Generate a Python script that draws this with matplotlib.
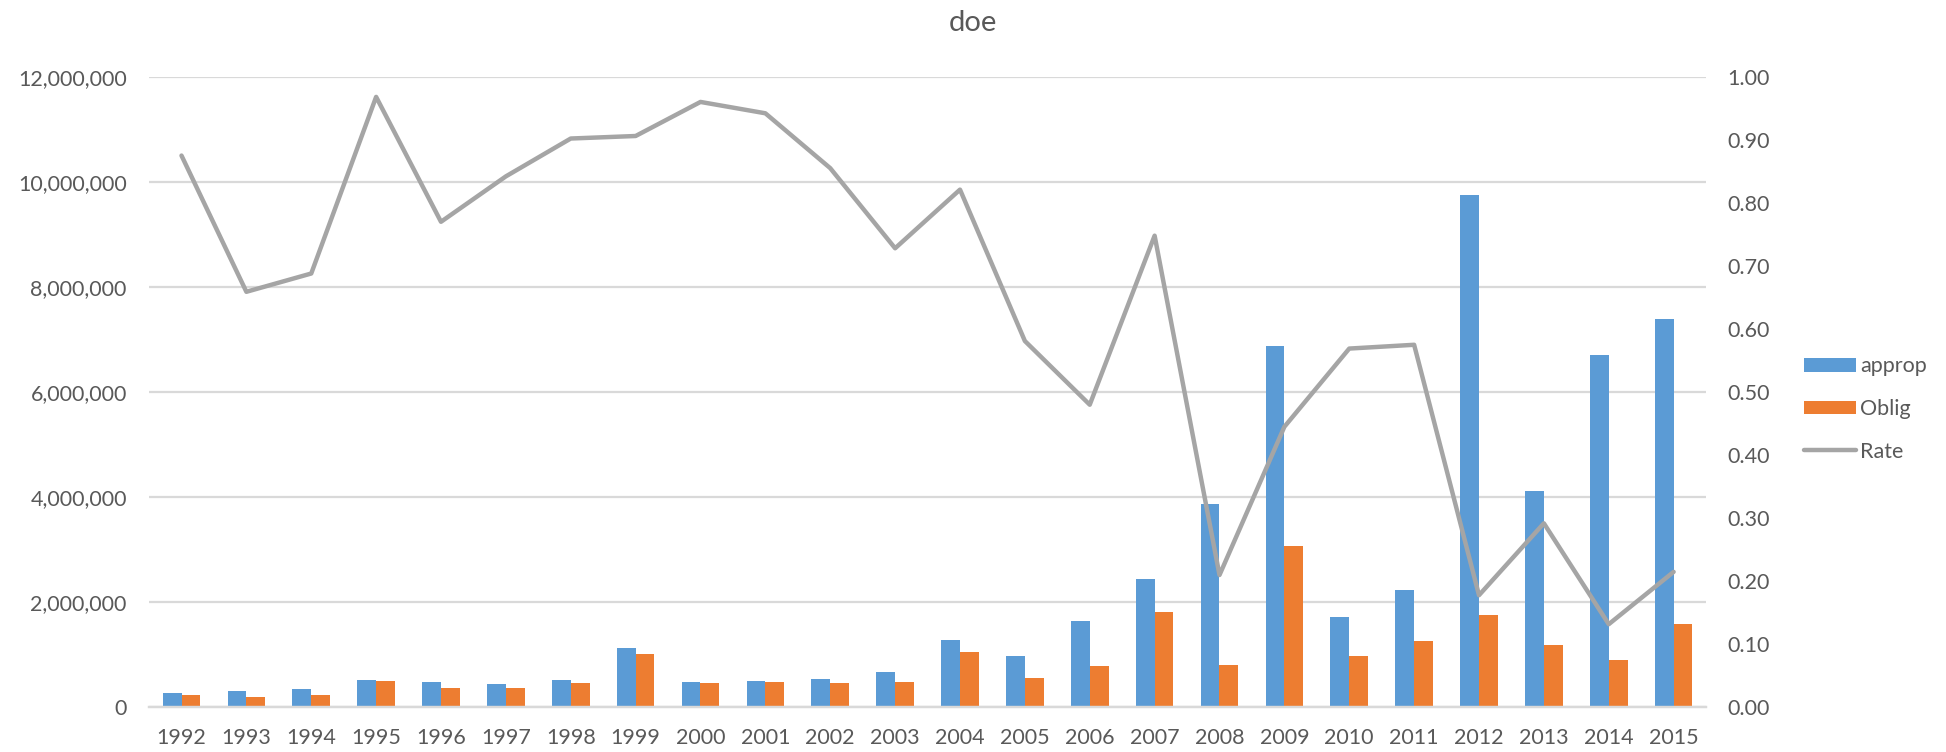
import numpy as np
import matplotlib
matplotlib.use("Agg")
import matplotlib.pyplot as plt
from matplotlib.ticker import FuncFormatter

# yearly figures for doe
years = [str(y) for y in range(1992, 2016)]
approp = [276000, 308000, 346000, 530000, 485000, 447000, 523000, 1132000,
          485000, 510000, 542000, 670000, 1290000, 986000, 1640000, 2440000,
          3866000, 6880000, 1730000, 2236000, 9750000, 4126000, 6700000, 7390000]
oblig = [238000, 194000, 238000, 510000, 371000, 377000, 466000, 1018000,
         466000, 485000, 466000, 485000, 1056000, 568000, 784000, 1810000,
         815000, 3080000, 986000, 1270000, 1760000, 1190000, 898000, 1583000]
rate = [0.875, 0.659, 0.688, 0.968, 0.770, 0.842, 0.902, 0.906, 0.960, 0.942,
        0.855, 0.728, 0.821, 0.581, 0.480, 0.748, 0.210, 0.445, 0.569, 0.575,
        0.178, 0.292, 0.132, 0.215]

blue = "#5B9BD5"
orange = "#ED7D31"
gray = "#A5A5A5"
grid = "#D9D9D9"
txt = "#595959"

plt.rcParams["font.family"] = ["Lato", "DejaVu Sans"]

fig = plt.figure(figsize=(19.46, 7.52), dpi=100)
ax = fig.add_axes([0.0766, 0.0592, 0.8001, 0.8388])
ax2 = ax.twinx()

x = np.arange(len(years))
w = 0.29
b1 = ax.bar(x - w / 2, approp, w, color=blue, label="approp", zorder=2)
b2 = ax.bar(x + w / 2, oblig, w, color=orange, label="Oblig", zorder=2)
ln, = ax2.plot(x, rate, color=gray, lw=3.2, label="Rate",
               solid_joinstyle="round", solid_capstyle="round")

ax.set_xlim(-0.5, len(years) - 0.5)
ax.set_ylim(0, 12000000)
ax.set_yticks(np.arange(0, 12000001, 2000000))
ax.yaxis.set_major_formatter(FuncFormatter(lambda v, p: f"{int(v):,}"))
ax2.set_ylim(0, 1.0)
ax2.set_yticks(np.arange(0, 1.01, 0.1))
ax2.yaxis.set_major_formatter(FuncFormatter(lambda v, p: f"{v:.2f}"))

ax.set_xticks(x)
ax.set_xticklabels(years)
ax.yaxis.grid(True, color=grid, lw=1.6, zorder=0)
ax.set_axisbelow(True)

for a in (ax, ax2):
    for s in ("top", "left", "right"):
        a.spines[s].set_visible(False)
    a.spines["bottom"].set_color(grid)
    a.spines["bottom"].set_linewidth(1.6)
    a.tick_params(length=0, labelsize=15.5, labelcolor=txt)
ax.tick_params(axis="y", pad=16)
ax.tick_params(axis="x", pad=15)
ax2.tick_params(axis="y", pad=15)

fig.text(0.5, 0.969, "doe", ha="center", va="center", fontsize=21, color=txt)

fig.legend([b1, b2, ln], ["approp", "Oblig", "Rate"], loc="center left",
           bbox_to_anchor=(0.927, 0.456), frameon=False, fontsize=15.5,
           labelcolor=txt, handlelength=2.4, handleheight=0.6,
           handletextpad=0.2, labelspacing=1.05, borderpad=0, borderaxespad=0)

fig.savefig("out.png", dpi=100)
